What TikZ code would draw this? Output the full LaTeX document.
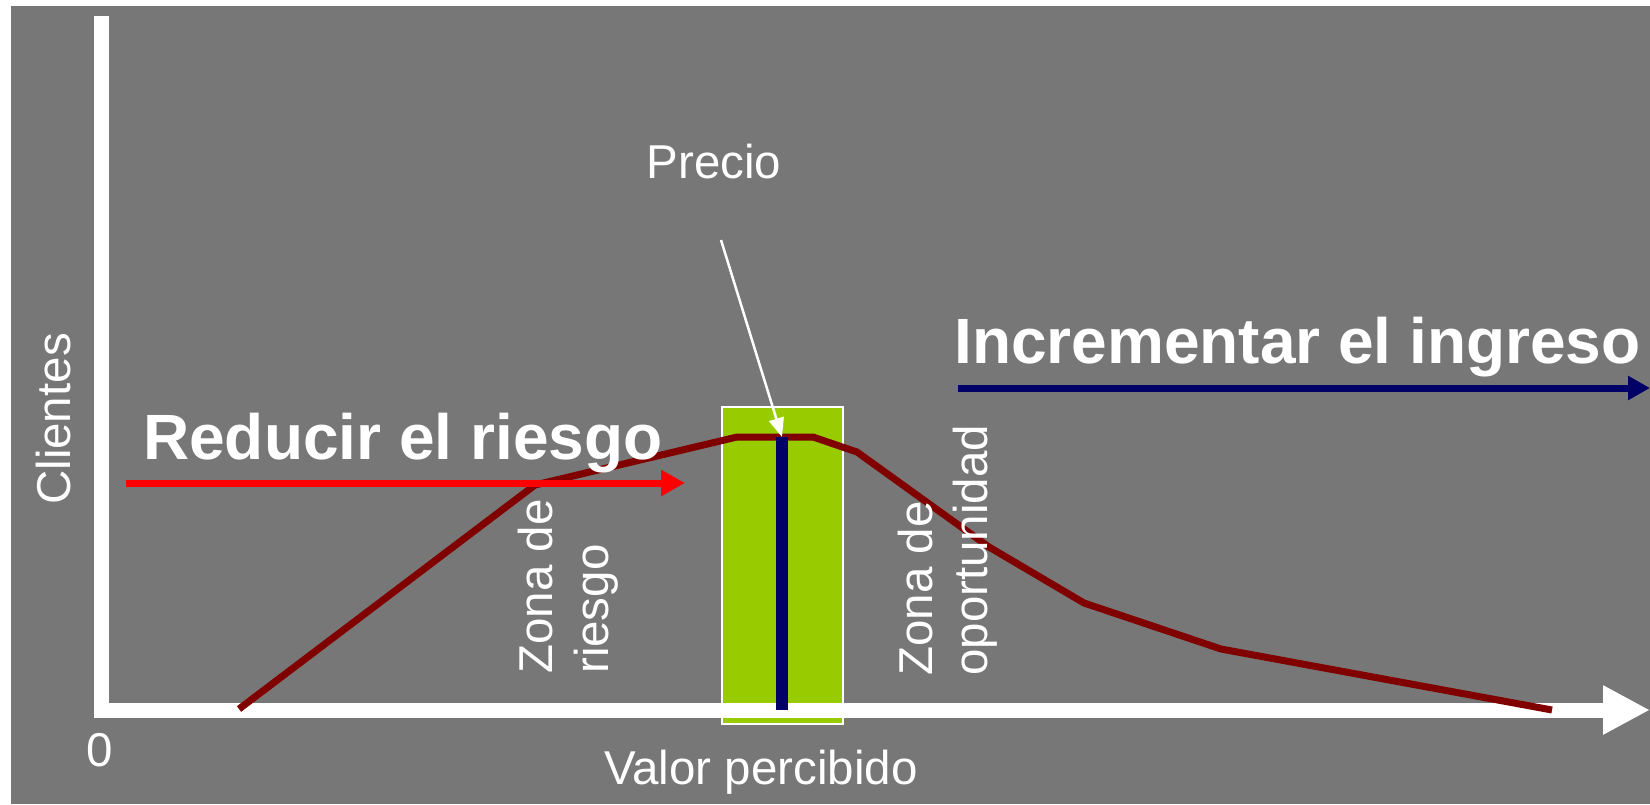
\documentclass[tikz,border=0pt]{standalone}
\usepackage{fontspec}
\setmainfont{Liberation Sans}
\usetikzlibrary{arrows.meta}
\definecolor{bg}{HTML}{777777}
\definecolor{curvered}{HTML}{800000}
\definecolor{navyc}{HTML}{000066}
\definecolor{zonegreen}{HTML}{99CC00}
\begin{document}
\begin{tikzpicture}[x=1pt,y=-1pt,
  lbl/.style={text=white, inner sep=0pt, font=\fontsize{47.5}{56}\selectfont},
  big/.style={text=white, inner sep=0pt, font=\fontsize{64}{77}\selectfont\bfseries},
  vlbl/.style={lbl, rotate=90, anchor=base west},
  axisline/.style={white, line width=15pt, line join=miter},
  arr/.style={line width=7pt, -{Triangle[length=24pt,width=25pt]}}
]
\useasboundingbox (0,0) rectangle (1650,804);
\fill[white] (0,0) rectangle (1650,804);
\fill[bg] (11,6) rectangle (1650,804);
% price zone
\filldraw[fill=zonegreen, draw=white, line width=2pt] (722,407) rectangle (843,724);
% axes
\draw[axisline, -{Triangle[length=47pt,width=46pt]}] (101.5,16) -- (101.5,710) -- (1650,710);
% demand curve
\draw[curvered, line width=7pt] (239,709) -- (535,485) -- (737,437) -- (813,437) -- (857,452)
  -- (989,547) -- (1084,603) -- (1221,649) -- (1552,710);
% price bar
\node[fill=navyc, minimum width=12pt, minimum height=273pt, inner sep=0pt, anchor=north] (price) at (782,437) {};
% arrows
\coordinate (rs) at (126,483);
\coordinate (re) at (685,483);
\draw[red, arr] (rs) -- (re);
\coordinate (bs) at (958,388);
\coordinate (be) at (1650,388);
\draw[navyc, line width=7pt, -{Triangle[length=22pt,width=23pt]}] (bs) -- (be);
% texts
\node[big, anchor=base west] (reducir) at (143,459) {Reducir el riesgo};
\node[big, anchor=base west] (incr) at (954,363) {Incrementar el ingreso};
\node[vlbl] (clientes) at (70,505) {Clientes};
\node[lbl, anchor=base] (cero) at (99.5,766) {0};
\node[lbl, anchor=base] (valor) at (761,784) {Valor percibido};
\node[vlbl] (zr1) at (552,674) {Zona de};
\node[vlbl] (zr2) at (608,674) {riesgo};
\node[vlbl] (zo1) at (932,676) {Zona de};
\node[vlbl] (zo2) at (987,676) {oportunidad};
\node[lbl, anchor=base] (precio) at (714,178) {Precio};
\coordinate (pstart) at (721,240);
\draw[white, line width=2.5pt, -{Triangle[length=19pt,width=15pt]}] (pstart) -- (price.north);
\end{tikzpicture}
\end{document}
